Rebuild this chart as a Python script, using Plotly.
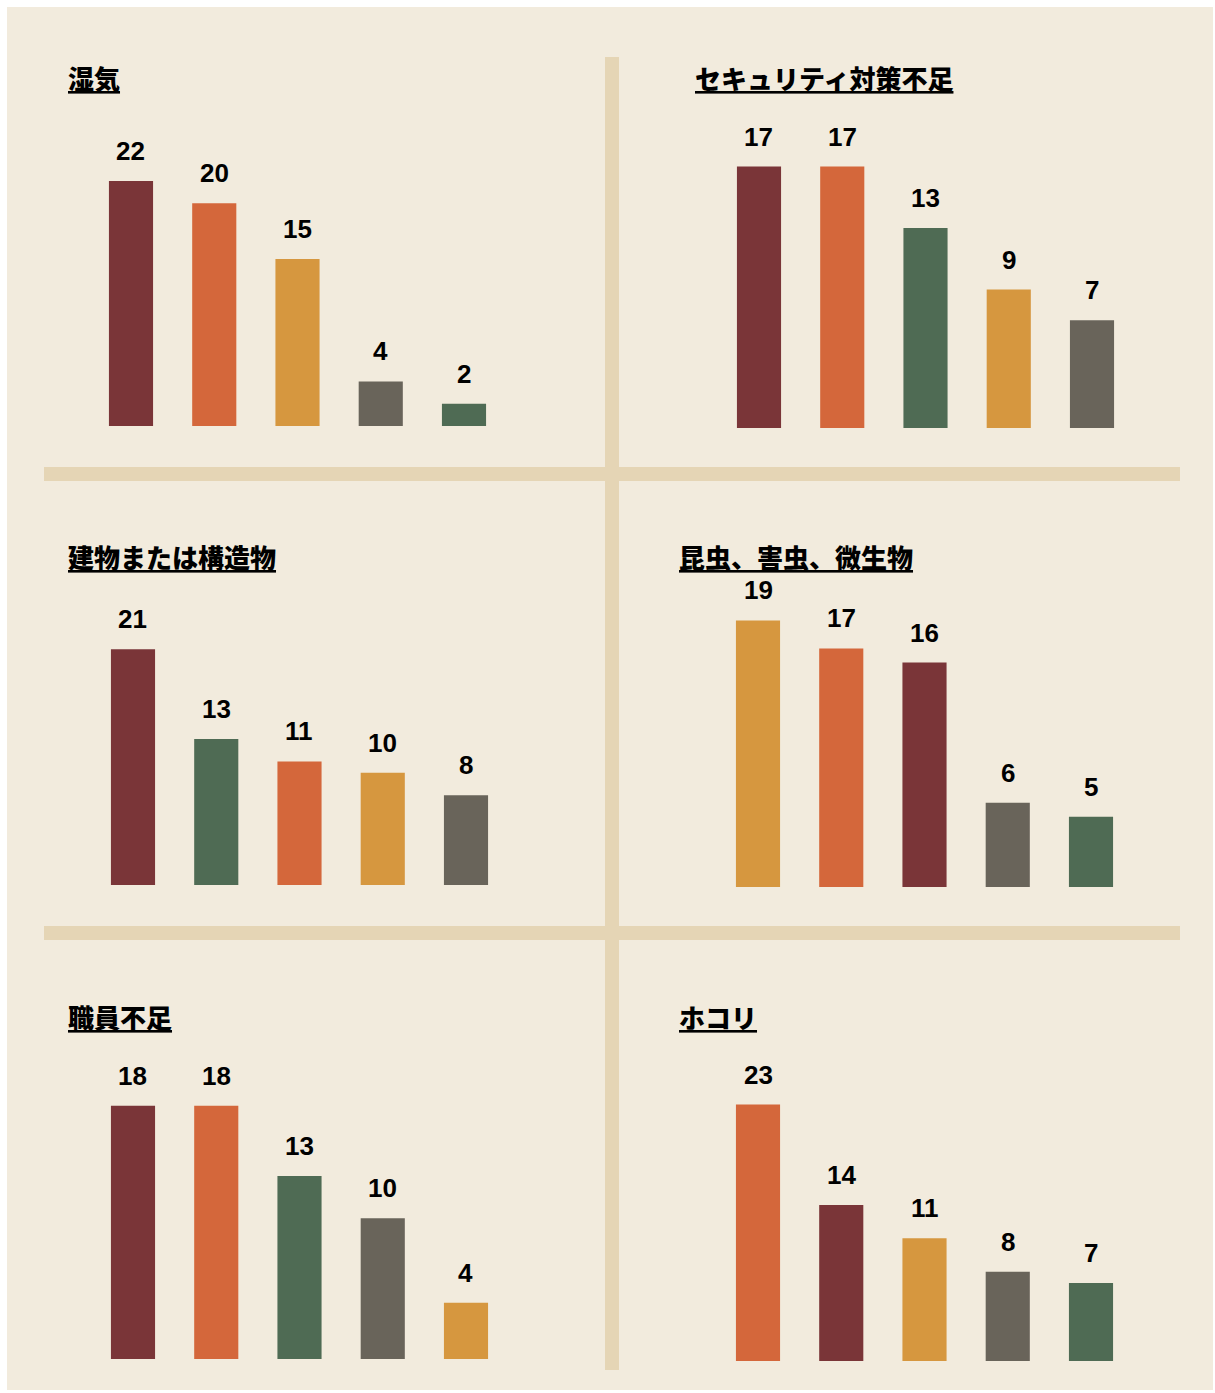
import plotly.graph_objects as go

W, H = 1215, 1393

# ---- data ----
titles = ["湿気", "セキュリティ対策不足", "建物または構造物", "昆虫、害虫、微生物", "職員不足", "ホコリ"]
positions = ["b1", "b2", "b3", "b4", "b5"]
vals_humidity = [22, 20, 15, 4, 2]
vals_security = [17, 17, 13, 9, 7]
vals_building = [21, 13, 11, 10, 8]
vals_insects = [19, 17, 16, 6, 5]
vals_staff = [18, 18, 13, 10, 4]
vals_dust = [23, 14, 11, 8, 7]

RED, ORANGE, GOLD, GRAY, GREEN = "#7A3538", "#D4673B", "#D6973F", "#69645A", "#4F6B54"
cols_humidity = [RED, ORANGE, GOLD, GRAY, GREEN]
cols_security = [RED, ORANGE, GREEN, GOLD, GRAY]
cols_building = [RED, GREEN, ORANGE, GOLD, GRAY]
cols_insects = [GOLD, ORANGE, RED, GRAY, GREEN]
cols_staff = [RED, ORANGE, GREEN, GRAY, GOLD]
cols_dust = [ORANGE, RED, GOLD, GRAY, GREEN]

values = [vals_humidity, vals_security, vals_building, vals_insects, vals_staff, vals_dust]
colors = [cols_humidity, cols_security, cols_building, cols_insects, cols_staff, cols_dust]

# ---- layout geometry (pixels) ----
# (first bar center x, baseline y, px per unit, title x, title y)
geom = [
    (131, 426, 11.14, 66, 77),
    (759, 428, 15.38, 693, 77),
    (133, 885, 11.23, 66, 556),
    (758, 887, 14.03, 677, 556),
    (133, 1359, 14.07, 66, 1016),
    (758, 1361, 11.15, 677, 1016),
]
SP = 83.25
BG = "#F2EBDD"
SEP = "#E5D5B5"

def px(x):
    return x / W

def py(y):
    return 1 - y / H

fig = go.Figure()
layout = dict()
annotations = []
for i, (vals, cols, (c0, yb, sc, tx, ty)) in enumerate(zip(values, colors, geom)):
    n = i + 1
    xa = "x" if n == 1 else f"x{n}"
    ya = "y" if n == 1 else f"y{n}"
    fig.add_trace(go.Bar(
        x=positions, y=vals, marker=dict(color=cols, line=dict(width=0)),
        width=0.53, xaxis=xa, yaxis=ya, showlegend=False, hoverinfo="y",
    ))
    yt = yb - 300
    layout[f"xaxis{'' if n == 1 else n}"] = dict(
        domain=[px(c0 - SP / 2), px(c0 + 4 * SP + SP / 2)], anchor=ya,
        visible=False, type="category", categoryarray=positions,
        range=[-0.5, 4.5], fixedrange=True)
    layout[f"yaxis{'' if n == 1 else n}"] = dict(
        domain=[py(yb), py(yt)], anchor=xa, visible=False,
        range=[0, (yb - yt) / sc], fixedrange=True)
    for p, v in zip(positions, vals):
        annotations.append(dict(
            x=p, y=v, xref=xa, yref=ya, text=f"<b>{v}</b>", showarrow=False,
            yanchor="middle", yshift=30,
            font=dict(family="Liberation Sans, Arial", size=26, color="#000")))
    annotations.append(dict(
        x=px(tx), y=py(ty), xref="paper", yref="paper", xanchor="left", yanchor="middle",
        text=f"<u>{titles[i]}</u>", showarrow=False,
        font=dict(family="Noto Sans CJK JP", size=26, color="#000", weight=900)))

shapes = [
    dict(type="rect", xref="paper", yref="paper", x0=px(7), x1=px(1213), y0=py(1390), y1=py(7),
         fillcolor=BG, line=dict(width=0), layer="below"),
    dict(type="rect", xref="paper", yref="paper", x0=px(605), x1=px(619), y0=py(1370), y1=py(57),
         fillcolor=SEP, line=dict(width=0), layer="below"),
    dict(type="rect", xref="paper", yref="paper", x0=px(44), x1=px(1180), y0=py(481), y1=py(467),
         fillcolor=SEP, line=dict(width=0), layer="below"),
    dict(type="rect", xref="paper", yref="paper", x0=px(44), x1=px(1180), y0=py(940), y1=py(926),
         fillcolor=SEP, line=dict(width=0), layer="below"),
]

fig.update_layout(
    width=W, height=H, margin=dict(l=0, r=0, t=0, b=0),
    paper_bgcolor="white", plot_bgcolor="rgba(0,0,0,0)",
    shapes=shapes, annotations=annotations, **layout,
)
fig.write_html(
    "out.html", config={"displayModeBar": False},
    post_script="document.body.style.margin='0';document.body.style.overflow='hidden';",
)
